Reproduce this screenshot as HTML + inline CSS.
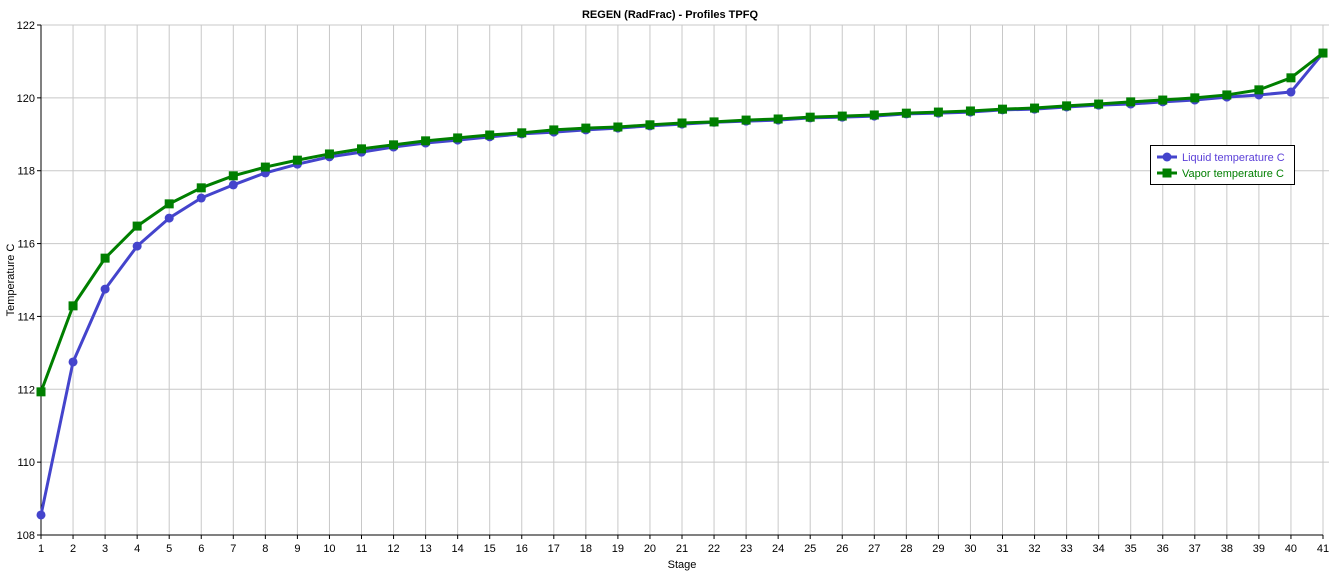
<!DOCTYPE html>
<html><head><meta charset="utf-8"><style>
body{margin:0;background:#fff;font-family:"Liberation Sans",sans-serif;}
svg text{font-family:"Liberation Sans",sans-serif;}
</style></head><body>
<svg id="chart" width="1340" height="576"></svg>
<script>
const stages=[];for(let i=1;i<=41;i++)stages.push(i);
const liquidTemp=[108.55,112.75,114.75,115.93,116.70,117.25,117.61,117.94,118.18,118.38,118.51,118.65,118.76,118.84,118.93,119.01,119.06,119.12,119.17,119.23,119.28,119.33,119.36,119.39,119.45,119.47,119.50,119.56,119.58,119.61,119.67,119.69,119.75,119.80,119.83,119.89,119.94,120.02,120.08,120.16,121.23];
const vaporTemp=[111.93,114.29,115.60,116.48,117.09,117.53,117.86,118.10,118.29,118.46,118.60,118.71,118.82,118.90,118.98,119.04,119.12,119.17,119.20,119.26,119.31,119.34,119.39,119.42,119.47,119.50,119.53,119.58,119.61,119.64,119.69,119.72,119.78,119.83,119.89,119.94,120.00,120.08,120.22,120.55,121.23];
const yTicks=[108,110,112,114,116,118,120,122];
const NS="http://www.w3.org/2000/svg";
const svg=document.getElementById('chart');
const X0=41,X1=1323,Y0=535,Y1=25;
const xs=s=>X0+(s-1)*(X1-X0)/40;
const ys=v=>Y0-(v-108)*(Y0-Y1)/14;
function mk(t,a,p){const e=document.createElementNS(NS,t);for(const k in a)e.setAttribute(k,a[k]);(p||svg).appendChild(e);return e;}
const grid=mk('g',{});


stages.forEach(s=>{if(s>1)mk('line',{x1:xs(s),x2:xs(s),y1:Y1,y2:Y0,stroke:'#c8c8c8'},grid);});
yTicks.forEach(v=>{if(v>108)mk('line',{x1:X0,x2:X1+6,y1:ys(v),y2:ys(v),stroke:'#c8c8c8'},grid);});
const ax=mk('g',{});


mk('line',{x1:X0,x2:X0,y1:Y1,y2:Y0,stroke:'#000'},ax);
mk('line',{x1:X0,x2:X1,y1:Y0,y2:Y0,stroke:'#000'},ax);
stages.forEach(s=>{mk('line',{x1:xs(s),x2:xs(s),y1:Y0,y2:Y0+4,stroke:'#000'},ax);
 const t=mk('text',{x:xs(s),y:Y0+17,'text-anchor':'middle','font-size':11},ax);t.textContent=s;
 });
yTicks.forEach(v=>{mk('line',{x1:X0-4,x2:X0,y1:ys(v),y2:ys(v),stroke:'#000'},ax);
 const t=mk('text',{x:X0-6,y:ys(v)+4,'text-anchor':'end','font-size':11},ax);t.textContent=v;
 });
let t=mk('text',{x:670,y:18,'text-anchor':'middle','font-size':11,'font-weight':'bold'});t.textContent='REGEN (RadFrac) - Profiles TPFQ';

t=mk('text',{x:682,y:568,'text-anchor':'middle','font-size':11});t.textContent='Stage';

t=mk('text',{x:14,y:280,'text-anchor':'middle','font-size':11,transform:'rotate(-90 14 280)'});t.textContent='Temperature C';

function series(vals,color,sq,name){
 const g=mk('g',{});
 
 
 mk('polyline',{points:vals.map((v,i)=>xs(stages[i])+','+ys(v)).join(' '),fill:'none',stroke:color,'stroke-width':3,'stroke-linejoin':'round'},g);
 vals.forEach((v,i)=>{const x=xs(stages[i]),y=ys(v);
  const m=sq?mk('rect',{x:x-4.5,y:y-4.5,width:9,height:9,fill:color},g):mk('circle',{cx:x,cy:y,r:4.5,fill:color},g);
  });
}
series(liquidTemp,'#4444cc',false,'liquid-temperature-series');
series(vaporTemp,'#007f00',true,'vapor-temperature-series');
const lg=mk('g',{});


mk('rect',{x:1150.5,y:145.5,width:144,height:39,fill:'#fff',stroke:'#000'},lg);
mk('line',{x1:1157,x2:1177,y1:157,y2:157,stroke:'#4444cc','stroke-width':3},lg);
mk('circle',{cx:1167,cy:157,r:4.5,fill:'#4444cc'},lg);
t=mk('text',{x:1182,y:161,'font-size':11,fill:'#5b3fd8'},lg);t.textContent='Liquid temperature C';

mk('line',{x1:1157,x2:1177,y1:173,y2:173,stroke:'#007f00','stroke-width':3},lg);
mk('rect',{x:1162.5,y:168.5,width:9,height:9,fill:'#007f00'},lg);
t=mk('text',{x:1182,y:177,'font-size':11,fill:'#007f00'},lg);t.textContent='Vapor temperature C';

</script>
</body></html>
